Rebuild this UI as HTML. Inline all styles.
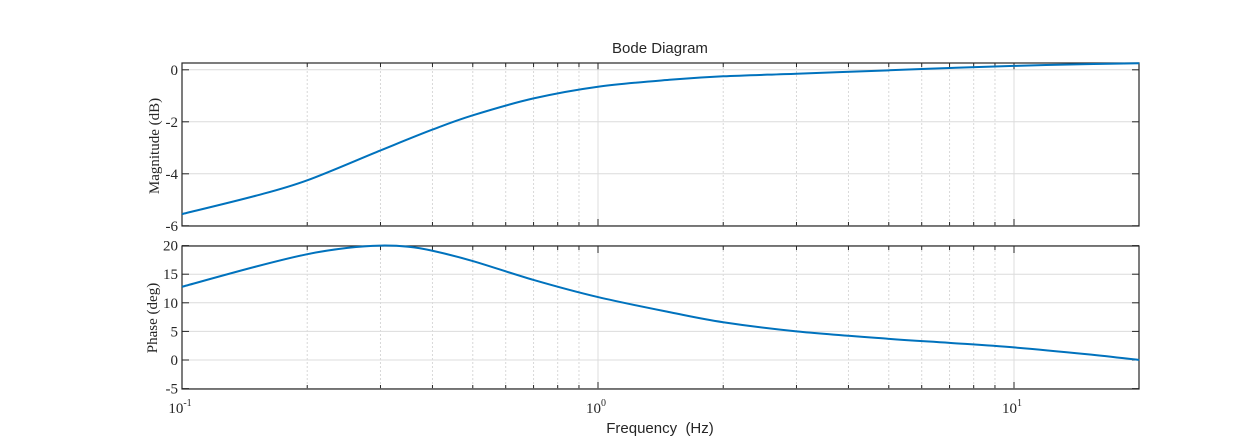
<!DOCTYPE html>
<html><head><meta charset="utf-8"><style>
html,body{margin:0;padding:0;background:#fff;width:1260px;height:438px;overflow:hidden}
svg text{fill:#262626}
.serif{font-family:"Liberation Serif",serif;font-size:15px}
.sans{font-family:"Liberation Sans",sans-serif;font-size:15px}
</style></head><body>
<svg id="chart" width="1260" height="438" xmlns="http://www.w3.org/2000/svg"></svg>
<script>
const freqMag=[0.1,0.15,0.2,0.3,0.4,0.5,0.7,1,1.5,2,3,5,7,10,15,20];
const magDb=[-5.55,-4.85,-4.25,-3.1,-2.3,-1.75,-1.1,-0.65,-0.38,-0.25,-0.15,-0.02,0.07,0.15,0.22,0.25];
const freqPh=[0.1,0.15,0.2,0.25,0.3,0.35,0.4,0.5,0.7,1,1.5,2,3,5,7,10,15,20];
const phaseDeg=[12.8,16.3,18.5,19.6,20,19.8,19.1,17.3,14,11,8.3,6.6,5,3.7,3,2.2,1,0];
const magTicks=[0,-2,-4,-6];
const phTicks=[20,15,10,5,0,-5];
const decades=[-1,0,1];

const svg=document.getElementById('chart');
const NS='http://www.w3.org/2000/svg';
const L=182,R=1139;
const xs=f=>L+(Math.log10(f)+1)*416;
const mag={top:63,bot:226,y:v=>69.8-v*26.0,ticks:magTicks,name:'magnitude'};
const ph={top:246,bot:389,y:v=>360-v*5.72,ticks:phTicks,name:'phase'};
function el(t,a,p){const e=document.createElementNS(NS,t);for(const k in a)e.setAttribute(k,a[k]);(p||svg).appendChild(e);return e;}
function txt(x,y,s,cls,anchor,extra){const e=el('text',Object.assign({x:x,y:y,class:cls,'text-anchor':anchor||'middle'},extra||{}));e.textContent=s;return e;}

[mag,ph].forEach(p=>{
  const g=el('g',{});
  
  
  el('rect',{x:L,y:p.top,width:R-L,height:p.bot-p.top,fill:'#fff'},g);
  for(let d=-1;d<=1;d++)for(let m=1;m<=9;m++){const f=m*Math.pow(10,d);if(f>20.01)continue;const x=xs(f);
    if(x<=L+0.5||x>=R-0.5)continue;
    el('line',{x1:x,x2:x,y1:p.top,y2:p.bot,stroke:m===1?'#dcdcdc':'#d8d8d8','stroke-dasharray':m===1?'':'2,2','stroke-width':1},g);
    const tl=m===1?7:4;
    el('line',{x1:x,x2:x,y1:p.top,y2:p.top+tl,stroke:'#262626'},g);
    el('line',{x1:x,x2:x,y1:p.bot,y2:p.bot-tl,stroke:'#262626'},g);
  }
  p.ticks.forEach(v=>{const y=p.y(v);
    el('line',{x1:L,x2:R,y1:y,y2:y,stroke:'#dcdcdc'},g);
    el('line',{x1:L,x2:L+7,y1:y,y2:y,stroke:'#262626'},g);
    el('line',{x1:R,x2:R-7,y1:y,y2:y,stroke:'#262626'},g);
    const t=txt(L-4,y+5,String(v),'serif','end');
    
    
  });
  el('rect',{x:L,y:p.top,width:R-L,height:p.bot-p.top,fill:'none',stroke:'#262626','stroke-width':1.2},g);
});

function curve(fs,vs,yf,name){
  const pts=fs.map((f,i)=>[xs(f),yf(vs[i])]);
  let d='M'+pts[0][0]+','+pts[0][1];
  for(let i=0;i<pts.length-1;i++){
    const p0=pts[Math.max(0,i-1)],p1=pts[i],p2=pts[i+1],p3=pts[Math.min(pts.length-1,i+2)];
    const c1=[p1[0]+(p2[0]-p0[0])/6,p1[1]+(p2[1]-p0[1])/6];
    const c2=[p2[0]-(p3[0]-p1[0])/6,p2[1]-(p3[1]-p1[1])/6];
    d+=' C'+c1+' '+c2+' '+p2;
  }
  const e=el('path',{d:d,fill:'none',stroke:'#0072BD','stroke-width':2});
  
  
}
curve(freqMag,magDb,mag.y,'magnitude-line');
curve(freqPh,phaseDeg,ph.y,'phase-line');

decades.forEach(d=>{const x=xs(Math.pow(10,d));
  const t=el('text',{x:x-2,y:413,class:'serif','text-anchor':'middle'});
  
  
  t.textContent='10';
  const s=el('tspan',{dy:-7,'font-size':'10px'},t);s.textContent=String(d);
});

let t=txt(660,53,'Bode Diagram','sans');

t=txt(660,433,'Frequency \u00a0(Hz)','sans');

t=txt(0,0,'Magnitude (dB)','serif','middle',{transform:'translate(159,146) rotate(-90)'});

t=txt(0,0,'Phase (deg)','serif','middle',{transform:'translate(157,318) rotate(-90)'});

</script>
</body></html>
